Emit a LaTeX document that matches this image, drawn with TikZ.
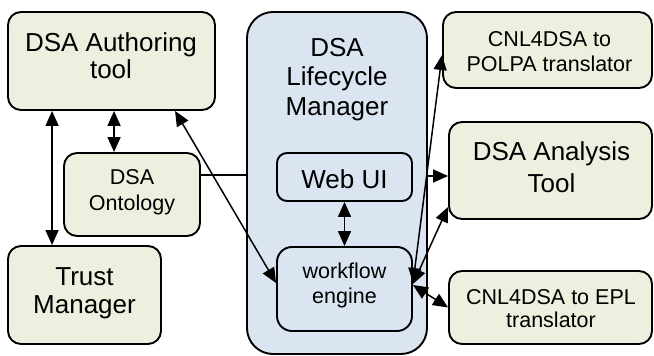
\documentclass[tikz,border=0pt]{standalone}
\usepackage{fontspec}
\setmainfont{Liberation Sans}
\usetikzlibrary{arrows.meta}
\definecolor{boxgreen}{RGB}{235,241,222}
\definecolor{boxblue}{RGB}{219,229,241}
\tikzset{
  gbox/.style={draw=black, line width=1.9pt, fill=boxgreen, rounded corners=13pt, inner sep=0pt},
  bbox/.style={draw=black, line width=1.9pt, fill=boxblue, rounded corners=12pt, inner sep=0pt},
  txt/.style={anchor=north, inner sep=0pt, align=center},
  conn/.style={draw=black, line width=1.5pt},
  dbl/.style={conn, {Triangle[length=15pt,width=13pt]}-{Triangle[length=15pt,width=13pt]}},
  sgl/.style={conn, -{Triangle[length=15pt,width=13pt]}},
}
\newcommand{\bigf}[1]{\fontsize{26}{#1}\selectfont}
\newcommand{\smallf}[1]{\fontsize{21.5}{#1}\selectfont}
\begin{document}
\begin{tikzpicture}[x=1pt,y=-1pt]
\useasboundingbox (0,0) rectangle (654,356);
% boxes
\node[gbox, minimum width=207pt, minimum height=98pt] (auth) at (111.5,61) {};
\node[gbox, minimum width=136pt, minimum height=83pt] (onto) at (132,194.5) {};
\node[gbox, minimum width=153pt, minimum height=98pt] (trust) at (84.5,295) {};
\node[bbox, rounded corners=26pt, minimum width=180pt, minimum height=342pt] (lcm) at (337,183) {};
\node[bbox, rounded corners=10pt, minimum width=135pt, minimum height=48pt] (web) at (344.5,177) {};
\node[bbox, rounded corners=15pt, minimum width=135pt, minimum height=84pt] (wf) at (344.5,289) {};
\node[gbox, minimum width=209pt, minimum height=76pt] (polpa) at (547.5,50) {};
\node[gbox, minimum width=203pt, minimum height=97pt] (ana) at (550.5,170.5) {};
\node[gbox, minimum width=203pt, minimum height=73pt] (epl) at (550.5,307.5) {};
% texts
\node[txt, font=\bigf{27.6}] (authtext) at (111,32) {DSA Authoring\\tool};
\node[txt, font=\bigf{29.5}] (lcmtext) at (337,38) {DSA\\Lifecycle\\Manager};
\node[txt, font=\bigf{28.3}] (trusttext) at (84.5,267.3) {Trust\\Manager};
\node[txt, font=\bigf{32.5}] (anatext) at (551.5,141.3) {DSA Analysis\\Tool};
\node[txt, font=\bigf{30}] (webtext) at (344.5,169.6) {Web UI};
\node[txt, font=\smallf{26.5}] (ontotext) at (132,168.8) {DSA\\Ontology};
\node[txt, font=\smallf{25}] (wftext) at (344.5,262.8) {workflow\\engine};
\node[txt, font=\smallf{25}] (polpatext) at (549.5,31.2) {CNL4DSA to\\POLPA translator};
\node[txt, font=\smallf{23.5}] (epltext) at (551,288.8) {CNL4DSA to EPL\\translator};
% connectors
\draw[dbl] ([xshift=45pt]auth.south west) -- ([xshift=45pt]trust.north west);
\draw[dbl] ([xshift=107pt]auth.south west) -- ([xshift=107pt]auth.south west |- onto.north);
\draw[conn] ([yshift=19.5pt]onto.east) -- ([yshift=19.5pt]onto.east -| lcm.west);
\draw[dbl] ([xshift=168pt]auth.south west) -- ([yshift=6pt]wf.west);
\draw[dbl] (web.south) -- (wf.north);
\draw[sgl] ([yshift=-5.5pt]ana.west -| lcm.east) -- ([yshift=-5.5pt]ana.west);
\draw[dbl] ([yshift=6pt]wf.east) -- ([yshift=-5pt]polpa.west);
\draw[dbl] ([yshift=5pt]wf.east) -- ([yshift=-36.5pt]ana.west);
\draw[dbl] ([yshift=4pt]wf.east) -- (epl.west);
\end{tikzpicture}
\end{document}
